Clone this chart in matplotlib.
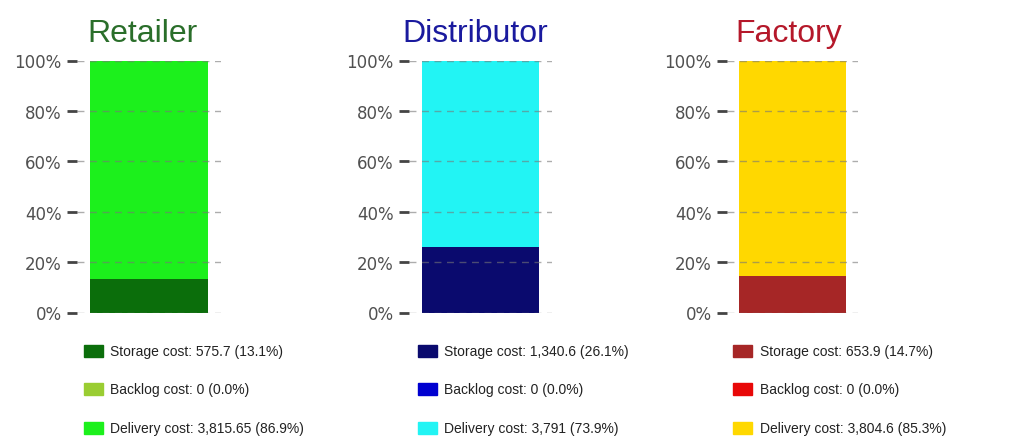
import matplotlib
matplotlib.use("Agg")
import matplotlib.pyplot as plt
from matplotlib import font_manager as fm
from matplotlib.patches import Rectangle

panels = ["Retailer", "Distributor", "Factory"]
cost_names = ["Storage cost", "Backlog cost", "Delivery cost"]
storage = [575.7, 1340.6, 653.9]
backlog = [0, 0, 0]
delivery = [3815.65, 3791, 3804.6]
y_ticks = [0, 20, 40, 60, 80, 100]
y_tick_labels = ["0%", "20%", "40%", "60%", "80%", "100%"]

title_colors = ["#2a6e2a", "#1a1a9e", "#b5182a"]
series_colors = [
    ["#0b6e0b", "#9acd32", "#1cf01c"],
    ["#0a0a6e", "#0000d0", "#22f4f4"],
    ["#a62626", "#e80808", "#ffd800"],
]

W, H = 1013, 439
fig = plt.figure(figsize=(W / 100, H / 100), dpi=100)
fig.patch.set_facecolor("white")

# axes extents in pixels (left, right)
ax_px = [(77, 221), (409, 552), (727, 858)]
y_top, y_bot = 61.5, 313.5
title_x = [142, 475, 789]
legend_sq_x = [84, 418, 733]
legend_txt_x = [110, 444, 760]
legend_rows = [352, 390, 429]

for i, name in enumerate(panels):
    l, r = ax_px[i]
    ax = fig.add_axes([l / W, 1 - y_bot / H, (r - l) / W, (y_bot - y_top) / H])
    vals = [storage[i], backlog[i], delivery[i]]
    total = sum(vals)
    pcts = [v / total * 100 for v in vals]
    bottom = 0
    for j, p in enumerate(pcts):
        ax.bar([0], [p], bottom=bottom, width=0.82, color=series_colors[i][j],
               linewidth=0, zorder=1)
        bottom += p
    ax.set_xlim(-0.5, 0.5)
    ax.set_ylim(0, 100)
    ax.set_xticks([])
    ax.set_yticks(y_ticks)
    ax.set_yticklabels(y_tick_labels, fontsize=12, color="#505050",
                       family="DejaVu Sans")
    ax.tick_params(axis="y", length=7, width=2, color="#444444", pad=4)
    for s in ax.spines.values():
        s.set_visible(False)
    ax.yaxis.grid(True, linestyle=(0, (5, 4)), color="#777777", alpha=0.6,
                  linewidth=1)
    ax.set_axisbelow(False)
    for gl in ax.get_ygridlines():
        gl.set_zorder(3)
    fig.text(title_x[i] / W, 1 - 42 / H, name, ha="center", va="baseline",
             fontsize=23, family="Liberation Sans", color=title_colors[i])
    for j, cname in enumerate(cost_names):
        yc = legend_rows[j]
        fig.patches.append(Rectangle((legend_sq_x[i] / W, 1 - (yc + 6) / H),
                                     19 / W, 12 / H, transform=fig.transFigure,
                                     color=series_colors[i][j], figure=fig))
        v = vals[j]
        label = f"{cname}: {v:,} ({pcts[j]:.1f}%)"
        fig.text(legend_txt_x[i] / W, 1 - yc / H, label, ha="left", va="center",
                 fontsize=10, family="Liberation Sans", color="#222222")

fig.savefig("out.png", dpi=100, facecolor="white")
